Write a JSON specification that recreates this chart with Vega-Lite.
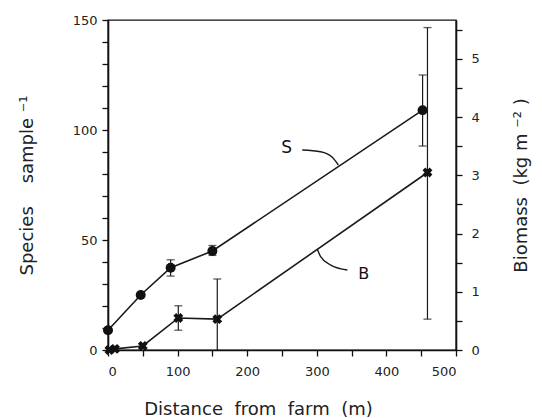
{
  "$schema": "https://vega.github.io/schema/vega-lite/v6.json",
  "width": 348,
  "height": 330,
  "autosize": {"type": "none"},
  "padding": {"left": 108, "top": 20, "right": 86, "bottom": 68},
  "background": "white",
  "datasets": {
    "S": [
      {"d": 0, "y": 9},
      {"d": 47, "y": 25},
      {"d": 90, "y": 37.4, "lo": 33.6, "hi": 41},
      {"d": 150, "y": 45, "lo": 43, "hi": 47.5},
      {"d": 452, "y": 109, "lo": 92.7, "hi": 125}
    ],
    "B": [
      {"d": 2, "y": 0.0},
      {"d": 10, "y": 0.02},
      {"d": 50, "y": 0.07},
      {"d": 101, "y": 0.55, "lo": 0.34, "hi": 0.76},
      {"d": 157, "y": 0.53, "lo": 0, "hi": 1.22},
      {"d": 459, "y": 3.05, "lo": 0.53, "hi": 5.54}
    ],
    "Slead": [
      {"d": 279.1, "y": 90.9},
      {"d": 305.5, "y": 90.1},
      {"d": 322.3, "y": 87.6},
      {"d": 330.9, "y": 84.1}
    ],
    "Blead": [
      {"d": 300.7, "y": 1.73},
      {"d": 305.5, "y": 1.603},
      {"d": 319.9, "y": 1.46},
      {"d": 343.9, "y": 1.375}
    ],
    "Slab": [{"d": 256.5, "y": 91.8, "t": "S"}],
    "Blab": [{"d": 367.4, "y": 1.31, "t": "B"}]
  },
  "encoding": {
    "x": {
      "field": "d",
      "type": "quantitative",
      "scale": {"domain": [0, 500], "nice": false, "zero": false},
      "axis": {
        "title": "Distance\u00a0\u00a0from\u00a0\u00a0farm\u00a0\u00a0(m)",
        "values": [0, 50, 100, 150, 200, 250, 300, 350, 400, 450, 500],
        "labelExpr": "indexof([0, 100, 200, 300, 400, 500], datum.value) >= 0 ? format(datum.value, 'd') : ''",
        "labelOverlap": false,
        "labelPadding": 9,
        "labelFontSize": 13,
        "titleFontSize": 18,
        "titleBaseline": "middle",
        "titleAlign": "center",
        "titleX": 150,
        "titleY": 59
      }
    }
  },
  "layer": [
    {
      "encoding": {
        "y": {
          "type": "quantitative",
          "scale": {"domain": [0, 150], "nice": false},
          "axis": {
            "orient": "left",
            "title": "Species\u00a0\u00a0\u00a0\u00a0sample\u00a0⁻¹",
            "values": [0, 10, 20, 30, 40, 50, 60, 70, 80, 90, 100, 110, 120, 130, 140, 150],
            "labelExpr": "indexof([0, 50, 100, 150], datum.value) >= 0 ? format(datum.value, 'd') : ''",
            "labelOverlap": false,
            "labelPadding": 5,
            "labelFontSize": 13,
            "titleFontSize": 18,
            "titleBaseline": "middle",
            "titleX": -81
          }
        }
      },
      "layer": [
        {
          "data": {"name": "S"},
          "mark": {"type": "line", "color": "#1a1a1a", "strokeWidth": 1.6},
          "encoding": {"y": {"field": "y"}}
        },
        {
          "data": {"name": "S"},
          "transform": [{"filter": "isValid(datum.lo)"}],
          "mark": {"type": "rule", "color": "#1a1a1a", "strokeWidth": 1.2},
          "encoding": {"y": {"field": "lo"}, "y2": {"field": "hi"}}
        },
        {
          "data": {"name": "S"},
          "transform": [{"filter": "isValid(datum.lo)"}],
          "mark": {"type": "tick", "orient": "horizontal", "color": "#1a1a1a", "size": 8, "thickness": 1.3},
          "encoding": {"y": {"field": "lo"}}
        },
        {
          "data": {"name": "S"},
          "transform": [{"filter": "isValid(datum.hi)"}],
          "mark": {"type": "tick", "orient": "horizontal", "color": "#1a1a1a", "size": 8, "thickness": 1.3},
          "encoding": {"y": {"field": "hi"}}
        },
        {
          "data": {"name": "S"},
          "mark": {"type": "point", "shape": "circle", "filled": true, "color": "#111", "size": 100, "opacity": 1},
          "encoding": {"y": {"field": "y"}}
        },
        {
          "data": {"name": "Slead"},
          "mark": {"type": "line", "color": "#1a1a1a", "strokeWidth": 1.4, "interpolate": "monotone"},
          "encoding": {"y": {"field": "y"}}
        },
        {
          "data": {"name": "Slab"},
          "mark": {"type": "text", "font": "DejaVu Sans", "fontSize": 17, "color": "#111", "align": "center", "baseline": "middle"},
          "encoding": {"y": {"field": "y"}, "text": {"field": "t"}}
        }
      ]
    },
    {
      "encoding": {
        "y": {
          "type": "quantitative",
          "scale": {"domain": [0, 5.67], "nice": false},
          "axis": {
            "orient": "right",
            "title": "Biomass\u00a0\u00a0(kg\u00a0m\u00a0⁻²\u00a0)",
            "values": [0, 0.5, 1, 1.5, 2, 2.5, 3, 3.5, 4, 4.5, 5, 5.5],
            "labelExpr": "indexof([0, 1, 2, 3, 4, 5], datum.value) >= 0 ? format(datum.value, 'd') : ''",
            "labelOverlap": false,
            "labelPadding": 9,
            "labelFontSize": 13,
            "titleFontSize": 18,
            "titleAngle": 270,
            "titleBaseline": "middle",
            "titleX": 65
          }
        }
      },
      "layer": [
        {
          "data": {"name": "B"},
          "mark": {"type": "line", "color": "#1a1a1a", "strokeWidth": 1.6},
          "encoding": {"y": {"field": "y"}}
        },
        {
          "data": {"name": "B"},
          "transform": [{"filter": "isValid(datum.lo)"}],
          "mark": {"type": "rule", "color": "#1a1a1a", "strokeWidth": 1.2},
          "encoding": {"y": {"field": "lo"}, "y2": {"field": "hi"}}
        },
        {
          "data": {"name": "B"},
          "transform": [{"filter": "isValid(datum.lo) && datum.lo > 0"}],
          "mark": {"type": "tick", "orient": "horizontal", "color": "#1a1a1a", "size": 8, "thickness": 1.3},
          "encoding": {"y": {"field": "lo"}}
        },
        {
          "data": {"name": "B"},
          "transform": [{"filter": "isValid(datum.hi)"}],
          "mark": {"type": "tick", "orient": "horizontal", "color": "#1a1a1a", "size": 8, "thickness": 1.3},
          "encoding": {"y": {"field": "hi"}}
        },
        {
          "data": {"name": "B"},
          "mark": {"type": "point", "shape": "cross", "angle": 45, "filled": true, "color": "#111", "size": 100, "opacity": 1},
          "encoding": {"y": {"field": "y"}}
        },
        {
          "data": {"name": "Blead"},
          "mark": {"type": "line", "color": "#1a1a1a", "strokeWidth": 1.4, "interpolate": "monotone"},
          "encoding": {"y": {"field": "y"}}
        },
        {
          "data": {"name": "Blab"},
          "mark": {"type": "text", "font": "DejaVu Sans", "fontSize": 16, "color": "#111", "align": "center", "baseline": "middle"},
          "encoding": {"y": {"field": "y"}, "text": {"field": "t"}}
        }
      ]
    }
  ],
  "resolve": {"scale": {"y": "independent"}, "axis": {"y": "independent"}},
  "config": {
    "view": {"stroke": "#111", "strokeWidth": 1.4},
    "axis": {
      "grid": false,
      "labelOverlap": false,
      "domainColor": "#111",
      "domainWidth": 1.6,
      "tickColor": "#111",
      "tickWidth": 1.3,
      "tickSize": 6,
      "labelColor": "#222",
      "labelFont": "DejaVu Sans",
      "titleFont": "DejaVu Sans",
      "titleFontWeight": "normal",
      "titleColor": "#222"
    }
  }
}
